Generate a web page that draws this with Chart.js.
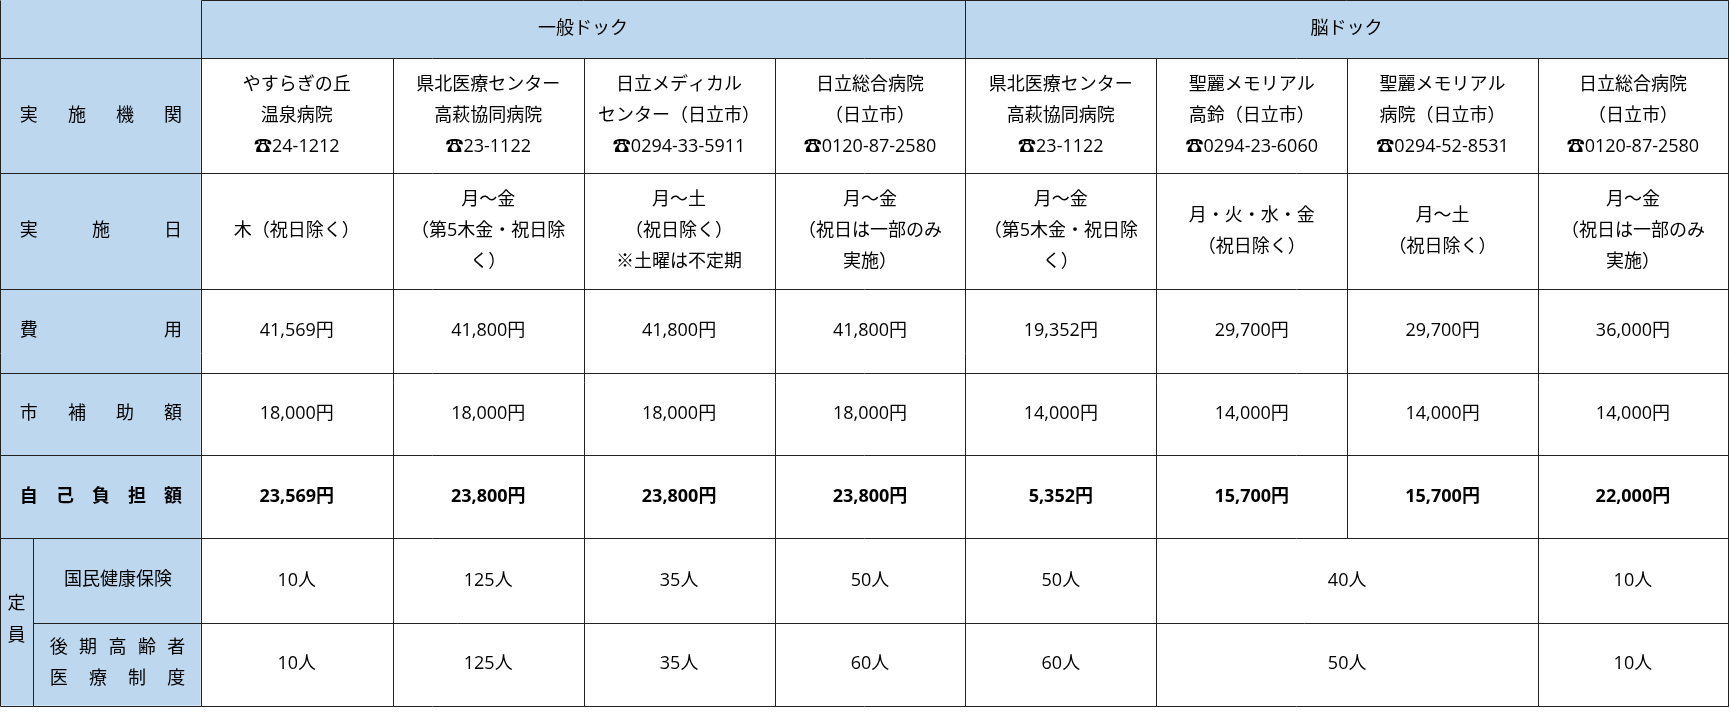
<!DOCTYPE html>
<html><head><meta charset="utf-8">
<script src="https://cdn.jsdelivr.net/npm/chart.js@4"></script>
<style>html,body{margin:0;padding:0;background:#fff}#w{width:1730px;height:720px}</style>
</head><body><div id="w"><canvas id="c"></canvas></div>
<script>
const groups = ["一般ドック","脳ドック"];
const facilities = [
 ["やすらぎの丘","温泉病院","☎24-1212"],
 ["県北医療センター","高萩協同病院","☎23-1122"],
 ["日立メディカル","センター（日立市）","☎0294-33-5911"],
 ["日立総合病院","（日立市）","☎0120-87-2580"],
 ["県北医療センター","高萩協同病院","☎23-1122"],
 ["聖麗メモリアル","高鈴（日立市）","☎0294-23-6060"],
 ["聖麗メモリアル","病院（日立市）","☎0294-52-8531"],
 ["日立総合病院","（日立市）","☎0120-87-2580"]];
const days = [
 ["木（祝日除く）"],
 ["月～金","（第5木金・祝日除","く）"],
 ["月～土","（祝日除く）","※土曜は不定期"],
 ["月～金","（祝日は一部のみ","実施）"],
 ["月～金","（第5木金・祝日除","く）"],
 ["月・火・水・金","（祝日除く）"],
 ["月～土","（祝日除く）"],
 ["月～金","（祝日は一部のみ","実施）"]];
const costs = ["41,569円","41,800円","41,800円","41,800円","19,352円","29,700円","29,700円","36,000円"];
const subsidy = ["18,000円","18,000円","18,000円","18,000円","14,000円","14,000円","14,000円","14,000円"];
const selfPay = ["23,569円","23,800円","23,800円","23,800円","5,352円","15,700円","15,700円","22,000円"];
const quotaNHI = ["10人","125人","35人","50人","50人","40人",null,"10人"];
const quotaElderly = ["10人","125人","35人","60人","60人","50人",null,"10人"];
const rowLabels = ["実施機関","実施日","費用","市補助額","自己負担額"];
const quotaLabel = "定員";
const quotaSubLabels = [["国民健康保険"],["後期高齢者","医療制度"]];

// layout (reference units)
const colX = [182,356,529,702,875,1048,1221,1394,1566];
const rowY = [0,53,157,262,338,413,488,565,640];
const HEAD = "#BDD7EE";

const tablePlugin = {
 id:'table',
 afterDraw(chart){
  const ctx = chart.ctx, xs = chart.scales.x, ys = chart.scales.y;
  const X = v=>xs.getPixelForValue(v), Y = v=>ys.getPixelForValue(v);
  const k = (X(100)-X(0))/100;
  const fam = '"Open Sans", "Noto Sans CJK JP", sans-serif';
  const font = (b)=> (b?'bold ':'') + Math.round(16.5*k) + 'px ' + fam;
  const fill=(x0,y0,x1,y1,c)=>{ctx.fillStyle=c;ctx.fillRect(X(x0),Y(y0),X(x1)-X(x0),Y(y1)-Y(y0));};
  const lines=(arr,cx,cy,b)=>{ctx.font=font(b);ctx.fillStyle='#000';ctx.textAlign='center';ctx.textBaseline='middle';
    const n=arr.length; arr.forEach((t,i)=>ctx.fillText(t,X(cx),Y(cy+(i-(n-1)/2)*28)));};
  const spread=(t,x0,x1,cy,b)=>{ctx.font=font(b);ctx.fillStyle='#000';ctx.textBaseline='middle';ctx.textAlign='center';
    const ch=[...t];const w=ctx.measureText(ch[0]).width/k;const a=x0+w/2,bb=x1-w/2;
    ch.forEach((c,i)=>ctx.fillText(c,X(a+(bb-a)*i/(ch.length-1)),Y(cy)));};
  ctx.save();
  fill(0,0,1566,rowY[1],HEAD);
  fill(0,0,182,640,HEAD);
  fill(182,rowY[1],1566,640,'#fff');
  lines([groups[0]],(colX[0]+colX[4])/2,26,false);
  lines([groups[1]],(colX[4]+colX[8])/2,26,false);
  const rowsData=[facilities,days,costs,subsidy,selfPay];
  rowsData.forEach((rd,r)=>{
   const cy=(rowY[r+1]+rowY[r+2])/2;
   for(let i=0;i<8;i++){const cx=(colX[i]+colX[i+1])/2;const v=rd[i];lines(Array.isArray(v)?v:[v],cx,cy,r===4);}
  });
  rowLabels.forEach((t,r)=>spread(t,18,165,(rowY[r+1]+rowY[r+2])/2,r===4));
  lines([quotaLabel[0]],15,548,false); lines([quotaLabel[1]],15,577,false);
  lines(quotaSubLabels[0],107,526,false);
  spread(quotaSubLabels[1][0],45,168,588,false);
  spread(quotaSubLabels[1][1],45,168,616,false);
  [quotaNHI,quotaElderly].forEach((q,r)=>{
   const y0=rowY[6+r],y1=rowY[7+r];
   for(let i=0;i<8;i++){ if(q[i]===null) continue; let j=i+1; while(j<8&&q[j]===null) j++;
     lines([q[i]],(colX[i]+colX[j])/2,(y0+y1)/2,false); }
  });
  ctx.strokeStyle='#222';ctx.lineWidth=1;
  const L=(x0,y0,x1,y1)=>{ctx.beginPath();ctx.moveTo(Math.round(X(x0))+0.5,Math.round(Y(y0))+0.5);ctx.lineTo(Math.round(X(x1))+0.5,Math.round(Y(y1))+0.5);ctx.stroke();};
  for(let r=1;r<rowY.length;r++){ if(r===7){L(30,rowY[r],1566,rowY[r]);} else L(0,rowY[r],1566,rowY[r]); }
  L(182,0,1566,0);
  L(0,0,0,640); L(1566,0,1566,640);
  L(30,rowY[6],30,640);
  colX.forEach((x,i)=>{
   if(i===0||i===8||i===4){L(x,0,x,640);return;}
   if(i===6){L(x,rowY[1],x,rowY[6]);return;}
   L(x,rowY[1],x,640);
  });
  ctx.restore();
 }
};
new Chart(document.getElementById('c'),{
 type:'scatter',
 data:{datasets:[{data:[]}]},
 options:{responsive:true,maintainAspectRatio:false,animation:false,
  layout:{padding:0},
  plugins:{legend:{display:false},tooltip:{enabled:false}},
  scales:{x:{type:'linear',min:0,max:1568,display:false},y:{type:'linear',min:0,max:653,reverse:true,display:false}}},
 plugins:[tablePlugin]
});
</script></body></html>
